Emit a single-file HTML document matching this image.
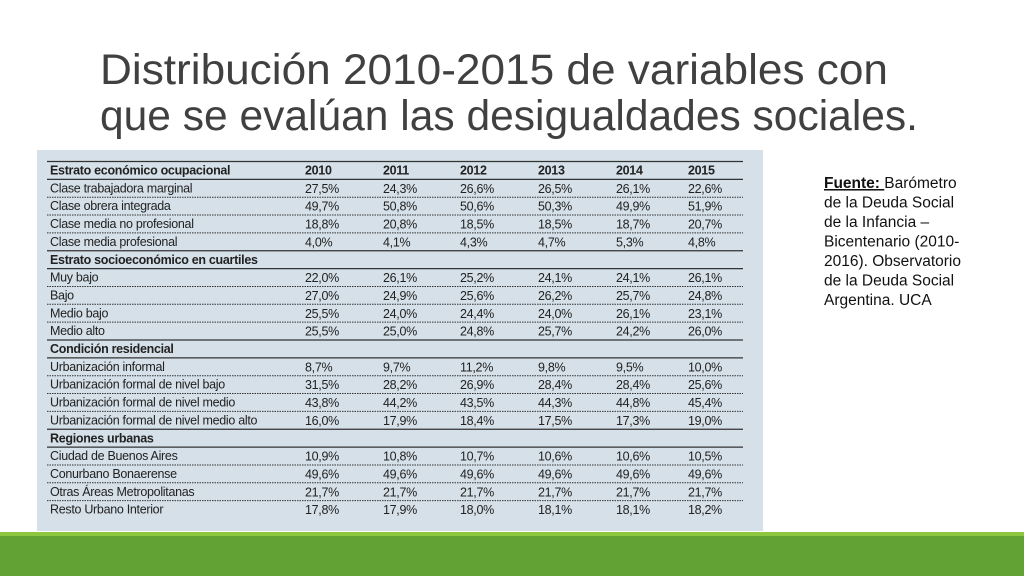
<!DOCTYPE html>
<html><head><meta charset="utf-8"><style>
html,body{margin:0;padding:0;background:#fff;width:1024px;height:576px;overflow:hidden}
svg{display:block;font-family:"Liberation Sans",sans-serif}
</style></head><body>
<svg id="s" width="1024" height="576" viewBox="0 0 1024 576">
<text x="100" y="84" font-size="43" fill="#404040" textLength="788" lengthAdjust="spacingAndGlyphs">Distribución 2010-2015 de variables con</text>
<text x="100" y="130" font-size="43" fill="#404040" textLength="818" lengthAdjust="spacingAndGlyphs">que se evalúan las desigualdades sociales.</text>
<rect x="30" y="143" width="736" height="393" fill="#fff"/>
<rect x="37" y="150" width="726" height="381" fill="#d5e0e8"/>
<g id="tbl"></g>
<rect x="0" y="532" width="1024" height="5" fill="#8dc63f"/>
<rect x="0" y="536" width="1024" height="40" fill="#62a234"/>
<g font-family="Liberation Sans, sans-serif" font-size="15.5" fill="#111">
<text x="824" y="188"><tspan font-weight="bold" text-decoration="underline">Fuente: </tspan>Barómetro</text>
<text x="824" y="207.5">de la Deuda Social</text>
<text x="824" y="227">de la Infancia –</text>
<text x="824" y="246.5">Bicentenario (2010-</text>
<text x="824" y="266">2016). Observatorio</text>
<text x="824" y="285.5">de la Deuda Social</text>
<text x="824" y="305">Argentina. UCA</text>
</g>
</svg>
<script>
const years=["2010","2011","2012","2013","2014","2015"];
const sections=["Estrato económico ocupacional","Estrato socioeconómico en cuartiles","Condición residencial","Regiones urbanas"];
const labels=[
["Clase trabajadora marginal","Clase obrera integrada","Clase media no profesional","Clase media profesional"],
["Muy bajo","Bajo","Medio bajo","Medio alto"],
["Urbanización informal","Urbanización formal de nivel bajo","Urbanización formal de nivel medio","Urbanización formal de nivel medio alto"],
["Ciudad de Buenos Aires","Conurbano Bonaerense","Otras Áreas Metropolitanas","Resto Urbano Interior"]];
const values=[
[["27,5%","24,3%","26,6%","26,5%","26,1%","22,6%"],["49,7%","50,8%","50,6%","50,3%","49,9%","51,9%"],["18,8%","20,8%","18,5%","18,5%","18,7%","20,7%"],["4,0%","4,1%","4,3%","4,7%","5,3%","4,8%"]],
[["22,0%","26,1%","25,2%","24,1%","24,1%","26,1%"],["27,0%","24,9%","25,6%","26,2%","25,7%","24,8%"],["25,5%","24,0%","24,4%","24,0%","26,1%","23,1%"],["25,5%","25,0%","24,8%","25,7%","24,2%","26,0%"]],
[["8,7%","9,7%","11,2%","9,8%","9,5%","10,0%"],["31,5%","28,2%","26,9%","28,4%","28,4%","25,6%"],["43,8%","44,2%","43,5%","44,3%","44,8%","45,4%"],["16,0%","17,9%","18,4%","17,5%","17,3%","19,0%"]],
[["10,9%","10,8%","10,7%","10,6%","10,6%","10,5%"],["49,6%","49,6%","49,6%","49,6%","49,6%","49,6%"],["21,7%","21,7%","21,7%","21,7%","21,7%","21,7%"],["17,8%","17,9%","18,0%","18,1%","18,1%","18,2%"]]];
const NS="http://www.w3.org/2000/svg";
const g=document.getElementById('tbl');
const colX=[305,383,460,538,616,688];
const L=47,R=743,rowH=17.85;
function line(y,dotted){const l=document.createElementNS(NS,'line');
l.setAttribute('x1',L);l.setAttribute('x2',R);l.setAttribute('y1',y);l.setAttribute('y2',y);
l.setAttribute('stroke','#333');l.setAttribute('stroke-width',dotted?1:1.3);
if(dotted)l.setAttribute('stroke-dasharray','1.5 1');


g.appendChild(l);}
function txt(x,y,s,bold,name){const t=document.createElementNS(NS,'text');
t.setAttribute('x',x);t.setAttribute('y',y);t.setAttribute('font-size','12.5');
t.setAttribute('fill','#222');t.setAttribute('letter-spacing','-0.3');
if(bold)t.setAttribute('font-weight','bold');
t.textContent=s;


g.appendChild(t);}
let y=161.5;
sections.forEach((sec,si)=>{
  line(y,false);
  txt(50,y+13,sec,true,'section-header');
  if(si===0)years.forEach((yr,i)=>txt(colX[i],y+13,yr,true,'year-header'));
  y+=rowH;
  labels[si].forEach((lab,ri)=>{
    if(ri===0)line(y,false);else line(y,true);
    txt(50,y+13,lab,false,'row-label');
    values[si][ri].forEach((v,i)=>txt(colX[i],y+13.5,v,false,'cell-value'));
    y+=rowH;
  });
});
</script>
</body></html>
